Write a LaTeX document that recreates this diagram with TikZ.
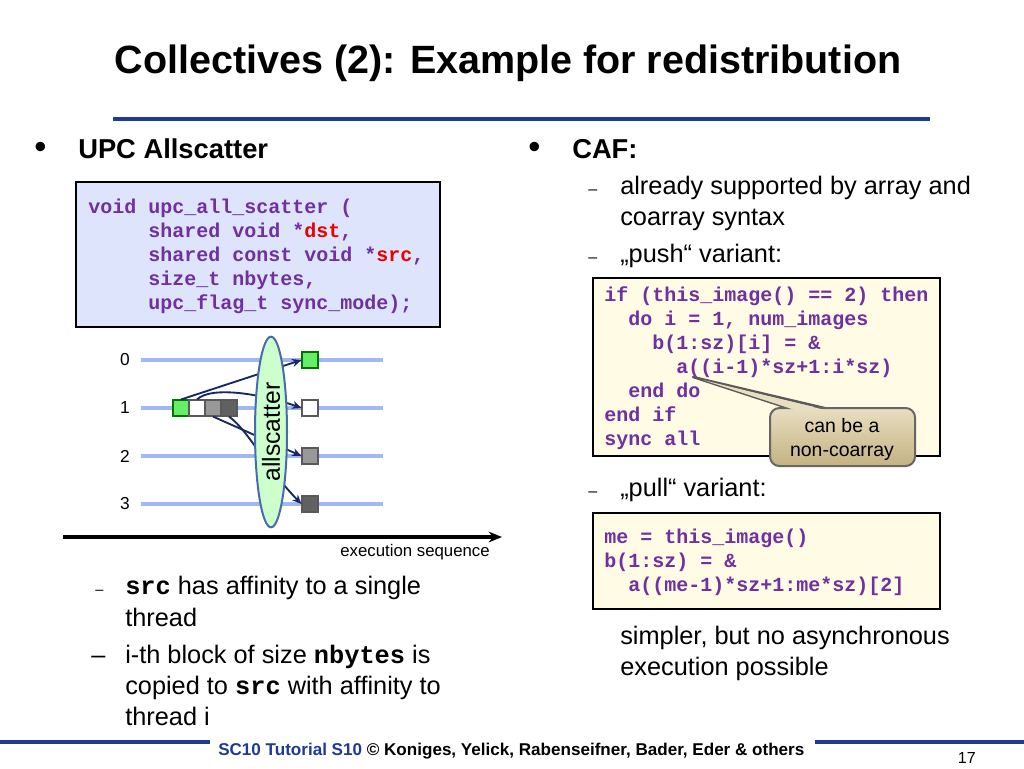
\documentclass[tikz,border=0pt]{standalone}
\usepackage{fontspec}
\setmainfont{Liberation Sans}
\setmonofont{Liberation Mono}
\usetikzlibrary{shapes.geometric,arrows.meta}
\definecolor{navy}{RGB}{31,58,150}
\definecolor{codepurple}{RGB}{112,48,160}
\definecolor{codered}{RGB}{235,0,0}
\definecolor{boxblue}{RGB}{221,228,252}
\definecolor{boxyellow}{RGB}{255,251,228}
\definecolor{thread}{RGB}{160,184,242}
\definecolor{ellfill}{RGB}{204,255,204}
\definecolor{ellline}{RGB}{74,106,176}
\definecolor{sqgreen}{RGB}{102,238,102}
\definecolor{arrnavy}{RGB}{25,40,100}
\definecolor{calltop}{RGB}{232,222,192}
\definecolor{callbot}{RGB}{196,178,130}
\tikzset{
  txt/.style={anchor=base west,inner sep=0pt,font=\fontsize{19}{22}\selectfont},
  head/.style={anchor=base west,inner sep=0pt,font=\fontsize{20.5}{24}\selectfont\bfseries},
  bul/.style={anchor=base west,inner sep=0pt,font=\fontsize{26}{28}\selectfont},
  code/.style={anchor=base west,inner sep=0pt,text=codepurple,font=\fontsize{15}{18}\selectfont\ttfamily\bfseries},
  codebox/.style={draw=black,line width=1.5pt},
  tline/.style={draw=thread,line width=2.6pt},
  sq/.style={draw=black!65,line width=0.8pt,minimum size=12pt,inner sep=0pt},
  arr/.style={draw=arrnavy,line width=1.4pt,-{Stealth[length=7pt,width=6pt]}},
  lab/.style={inner sep=0pt,font=\fontsize{13}{15}\selectfont},
}
\begin{document}
\begin{tikzpicture}[x=0.75pt,y=-0.75pt]
\useasboundingbox (0,0) rectangle (1024,768);
\fill[white] (0,0) rectangle (1024,768);
% title
\node[anchor=base,inner sep=0pt,font=\fontsize{29.6}{34}\selectfont\bfseries] (title) at (508,73) {Collectives (2): Example for redistribution};
\draw[navy,line width=2.4pt] (113,119) -- (930,119);
% left heading
\node[bul] (b1) at (34,158) {•};
\node[head] (h1) at (78,158) {UPC Allscatter};
% left code box
\draw[codebox,fill=boxblue] (76,182) rectangle (440,327);
\node[code] (lc1) at (88,213) {void upc\_all\_scatter (};
\node[code] (lc2) at (148,237) {shared void *\textcolor{codered}{dst},};
\node[code] (lc3) at (148,261) {shared const void *\textcolor{codered}{src},};
\node[code] (lc4) at (148,285) {size\_t nbytes,};
\node[code] (lc5) at (148,309) {upc\_flag\_t sync\_mode);};
% diagram
\foreach \i/\y in {0/360,1/408,2/456,3/504}{
  \draw[tline] (141,\y) -- (383,\y);
  \node[lab,anchor=east] (t\i) at (130,\y) {\i};
}
\node[sq,fill=sqgreen,draw=green!45!black] (s0) at (181,408) {};
\node[sq,fill=white] (s1) at (197,408) {};
\node[sq,fill=black!40] (s2) at (213,408) {};
\node[sq,fill=black!62] (s3) at (229,408) {};
\node[sq,fill=sqgreen,draw=green!45!black] (d0) at (310,360) {};
\node[sq,fill=white] (d1) at (310,408) {};
\node[sq,fill=black!40] (d2) at (310,456) {};
\node[sq,fill=black!62] (d3) at (310,504) {};
\draw[arr] (s0.north) -- (d0.west);
\draw[arr] (s1.north) .. controls (212,385) and (265,395) .. (d1.west);
\draw[arr] (s2.south) -- (d2.west);
\draw[arr] (s3.south) .. controls (248,430) and (268,470) .. (d3.west);
\node[ellipse,draw=ellline,line width=1.5pt,fill=ellfill,minimum width=143pt,minimum height=24pt,inner sep=0pt,rotate=90,font=\fontsize{18.5}{20}\selectfont] (ell) at (271,432) {allscatter};
% execution axis
\coordinate (ax0) at (63,537);
\coordinate (ax1) at (502,537);
\draw[line width=2.4pt,-{Stealth[length=10pt,width=8pt]}] (ax0) -- (ax1);
\node[anchor=base east,inner sep=0pt,font=\fontsize{12.6}{14}\selectfont] (exs) at (490,556) {execution sequence};
% left sub bullets
\node[txt] (ld1) at (95,594) {\fontsize{11}{13}\selectfont –};
\node[txt] (l1) at (125,594) {\texttt{\bfseries src} has affinity to a single};
\node[txt] (l2) at (125,626) {thread};
\node[txt] (ld2) at (91,663) {–};
\node[txt] (l3) at (125,663) {i-th block of size \texttt{\bfseries nbytes} is};
\node[txt] (l4) at (125,694) {copied to \texttt{\bfseries src} with affinity to};
\node[txt] (l5) at (125,725) {thread i};
% right heading
\node[bul] (b2) at (528,158) {•};
\node[head] (h2) at (572,158) {CAF:};
\node[txt] (rd1) at (588,194) {\fontsize{12}{14}\selectfont –};
\node[txt] (r1) at (620,194) {already supported by array and};
\node[txt] (r2) at (620,225) {coarray syntax};
\node[txt] (rd2) at (588,262) {\fontsize{12}{14}\selectfont –};
\node[txt] (r3) at (620,262) {„push“ variant:};
% push code box
\draw[codebox,fill=boxyellow] (593,278) rectangle (940,456);
\node[code] (pc1) at (604,301) {if (this\_image() == 2) then};
\node[code] (pc2) at (628,325) {do i = 1, num\_images};
\node[code] (pc3) at (652,349) {b(1:sz)[i] = \&};
\node[code] (pc4) at (676,373) {a((i-1)*sz+1:i*sz)};
\node[code] (pc5) at (628,397) {end do};
\node[code] (pc6) at (604,421) {end if};
\node[code] (pc7) at (604,445) {sync all};
% callout
\coordinate (tip) at (693,377);
\draw[draw=black!65,line width=1.8pt,line join=round,fill=calltop] (tip) -- (833,410) -- (794,410) -- cycle;
\draw[draw=black!60,line width=1.5pt,rounded corners=7pt,top color=calltop,bottom color=callbot] (770,408) rectangle (915,466);
\fill[calltop] (tip) ++(10,3) -- (829,411) -- (798,411) -- cycle;
\node[anchor=base,inner sep=0pt,font=\fontsize{14.6}{17}\selectfont] (cl1) at (842,432) {can be a};
\node[anchor=base,inner sep=0pt,font=\fontsize{14.6}{17}\selectfont] (cl2) at (842,456) {non-coarray};
% pull
\node[txt] (rd3) at (588,496) {\fontsize{12}{14}\selectfont –};
\node[txt] (r4) at (620,496) {„pull“ variant:};
\draw[codebox,fill=boxyellow] (593,513) rectangle (940,609);
\node[code] (qc1) at (604,543) {me = this\_image()};
\node[code] (qc2) at (604,567) {b(1:sz) = \&};
\node[code] (qc3) at (628,591) {a((me-1)*sz+1:me*sz)[2]};
\node[txt] (r5) at (620,644) {simpler, but no asynchronous};
\node[txt] (r6) at (620,675) {execution possible};
% footer
\draw[navy,line width=3pt] (0,742) -- (210,742);
\draw[navy,line width=3pt] (815,742) -- (1024,742);
\node[anchor=base west,inner sep=0pt,font=\fontsize{12.8}{14}\selectfont\bfseries] (foot) at (218,755) {\textcolor{navy}{SC10 Tutorial S10} © Koniges, Yelick, Rabenseifner, Bader, Eder \& others};
\node[anchor=base east,inner sep=0pt,font=\fontsize{12}{14}\selectfont] (pg) at (976,763) {17};
\end{tikzpicture}
\end{document}
